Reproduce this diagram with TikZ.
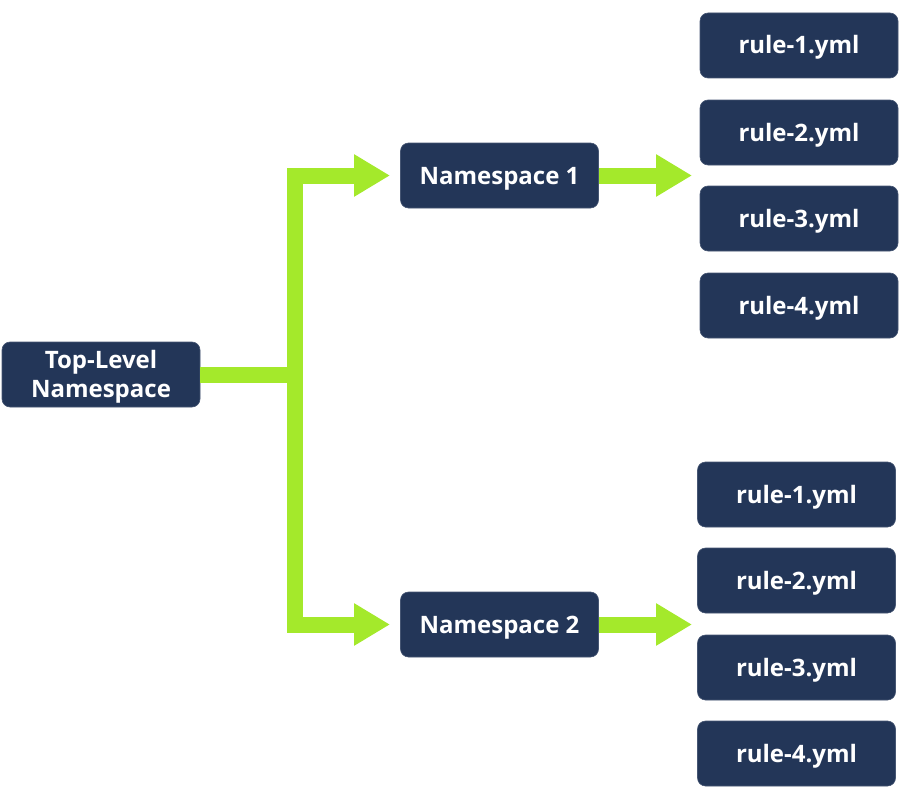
\documentclass[tikz,border=0pt]{standalone}
\usepackage{fontspec}
\setmainfont{Open Sans}[BoldFont={* Bold}]
\usetikzlibrary{arrows.meta}
\definecolor{navy}{RGB}{35,54,88}
\definecolor{navyedge}{RGB}{70,86,115}
\definecolor{lime}{RGB}{164,233,43}
\tikzset{
  box/.style={draw=navyedge, line width=0.6pt, fill=navy, rounded corners=8pt,
    minimum width=198pt, minimum height=65pt, inner sep=0pt,
    text=white, font=\bfseries\fontsize{24}{29}\selectfont, align=center,
    text height=17pt, text depth=0pt},
  conn/.style={draw=lime, line width=16pt, line join=miter,
    -{Triangle[length=36pt,width=40pt]}},
  bar/.style={draw=lime, line width=16pt, line join=miter}
}
\begin{document}
\begin{tikzpicture}[x=1pt,y=-1pt]
\useasboundingbox (0,0) rectangle (900,800);
\node[box, text height=46pt] (tl) at (101,374.5) {Top-Level\\Namespace};
\node[box] (ns1) at (499.5,175.5) {Namespace 1};
\node[box] (ns2) at (499.5,624.5) {Namespace 2};
\node[box] (a1) at (799,45.5) {rule-1.yml};
\node[box] (a2) at (799,132.5) {rule-2.yml};
\node[box] (a3) at (799,218.5) {rule-3.yml};
\node[box] (a4) at (799,305.5) {rule-4.yml};
\node[box] (b1) at (796.5,494.5) {rule-1.yml};
\node[box] (b2) at (796.5,580.5) {rule-2.yml};
\node[box] (b3) at (796.5,667.5) {rule-3.yml};
\node[box] (b4) at (796.5,753.5) {rule-4.yml};
\coordinate (j) at (295,374.5);
\coordinate (h1) at (390,175.5);
\coordinate (h2) at (390,624.5);
\coordinate (t1) at (692,175.5);
\coordinate (t2) at (692,624.5);
\draw[bar] (tl.east) -- (j);
\draw[conn] (j) |- (h1);
\draw[conn] (j) |- (h2);
\draw[conn] (ns1.east) -- (t1);
\draw[conn] (ns2.east) -- (t2);
\end{tikzpicture}
\end{document}
